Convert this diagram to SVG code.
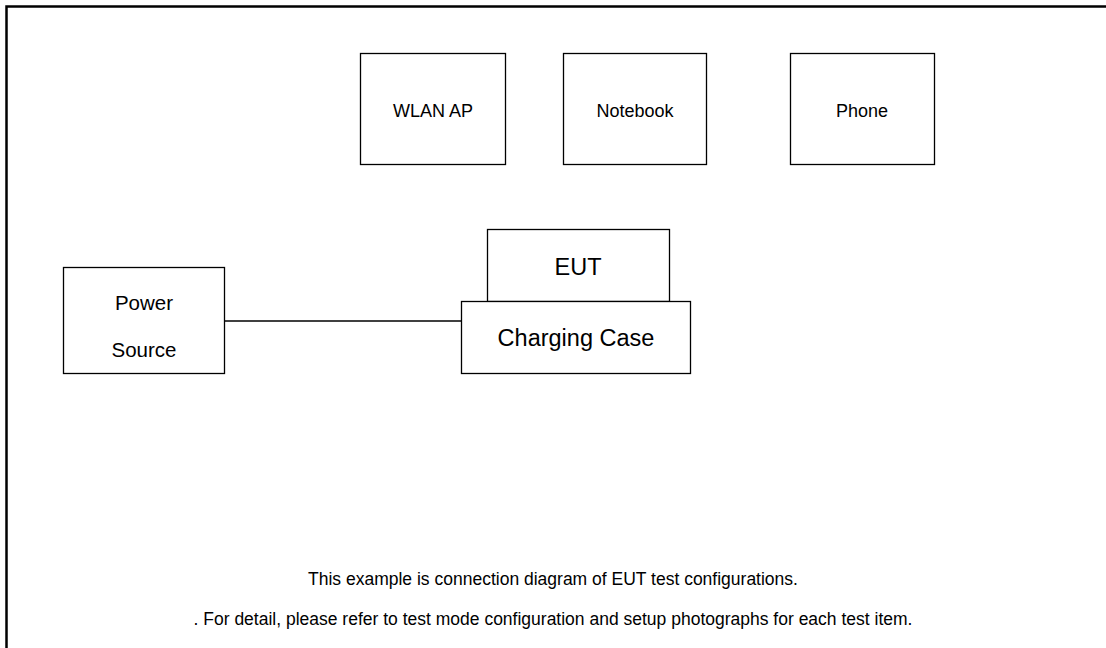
<svg xmlns="http://www.w3.org/2000/svg" width="1106" height="648" viewBox="0 0 1106 648">
<style>
.box{fill:#fff;stroke:#000;stroke-width:1.3}
.t{font-family:"Liberation Sans",Arial,sans-serif;fill:#000;text-anchor:middle}
.conn{stroke:#000;stroke-width:1.5;fill:none}
</style>
<rect width="1106" height="648" fill="#fff"/>
<path d="M6.5 648 V6.5 H1106" fill="none" stroke="#000" stroke-width="2.5"/>
<g id="wlan"><rect class="box" x="360.5" y="53.5" width="145" height="111"/><text class="t" x="433" y="116.5" font-size="18">WLAN AP</text></g>
<g id="notebook"><rect class="box" x="563.5" y="53.5" width="143" height="111"/><text class="t" x="635" y="116.5" font-size="18">Notebook</text></g>
<g id="phone"><rect class="box" x="790.5" y="53.5" width="144" height="111"/><text class="t" x="862" y="116.5" font-size="18">Phone</text></g>
<g id="eut"><rect class="box" x="487.5" y="229.5" width="182" height="72"/><text class="t" x="578" y="275" font-size="23.5">EUT</text></g>
<g id="case"><rect class="box" x="461.5" y="301.5" width="229" height="72"/><text class="t" x="576" y="346" font-size="23.5">Charging Case</text></g>
<g id="power"><rect class="box" x="63.5" y="267.5" width="161" height="106"/><text class="t" x="144" y="310" font-size="20.5">Power</text><text class="t" x="144" y="357" font-size="20.5">Source</text></g>
<g id="connectors"><line class="conn" x1="224.5" y1="321" x2="461.5" y2="321"/></g>
<g id="notes">
<text class="t" x="553" y="585" font-size="17.5">This example is connection diagram of EUT test configurations.</text>
<text class="t" x="553" y="625" font-size="17.5">. For detail, please refer to test mode configuration and setup photographs for each test item.</text>
</g>
</svg>
